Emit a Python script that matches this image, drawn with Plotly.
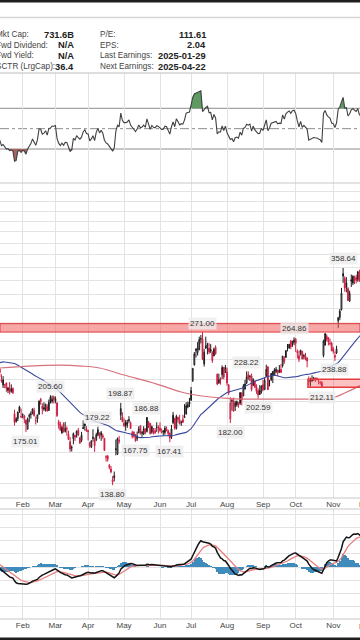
import numpy as np
import pandas as pd
import plotly.graph_objects as go

# ---------------- data ----------------
holidays = ['2024-01-15', '2024-02-19', '2024-03-29', '2024-05-27',
            '2024-06-19', '2024-07-04', '2024-09-02', '2024-11-28']
dates = [d.strftime('%Y-%m-%d') for d in pd.bdate_range('2024-01-10', '2024-11-29')
         if d.strftime('%Y-%m-%d') not in holidays]

# closes before the visible window (indicator warm-up): 2023-10-30 .. 2024-01-09
warmup_close = [197.36, 200.84,
                205.66, 218.51, 219.96, 219.27, 222.18, 222.11, 209.98, 214.65, 223.71, 237.41, 242.84,
                233.59, 234.30, 235.60, 241.20, 234.21, 235.45, 236.08, 246.72, 244.14, 240.08,
                238.83, 235.58, 238.72, 239.37, 242.64, 243.84, 239.74, 237.01, 239.29, 251.05,
                253.50, 252.08, 257.22, 247.14, 254.50, 252.54, 256.61, 261.44, 253.18, 248.48,
                248.42, 238.45, 237.93, 237.49, 240.45, 234.96]

opens = [
    235.1, 230.6, 220.1, 215.1, 214.9, 216.9, 210.0, 212.3, 211.3, 211.9, 189.7, 185.5, 185.6, 195.3, 187.0,
    188.5, 185.0, 184.3, 177.2, 188.2, 189.0, 190.2, 192.1, 184.0, 185.3, 189.2, 202.1, 196.1, 193.4, 194.0, 195.3, 192.3, 204.0, 200.4, 204.2,
    200.5, 198.7, 183.1, 181.3, 174.4, 181.5, 175.5, 177.8, 173.1, 167.8, 163.2, 170.0, 172.4, 173.0, 176.4, 166.7, 168.8, 178.6, 181.4, 177.5,
    176.2, 164.8, 164.0, 170.1, 169.1, 169.3, 172.9, 173.0, 172.6, 172.3, 170.2, 156.7, 157.6, 151.3, 149.0, 140.6, 143.3, 162.8, 159.0, 168.9, 188.4, 187.0,
    182.0, 182.9, 182.1, 183.8, 182.4, 171.6, 175.0, 173.1, 170.0, 174.5, 179.9, 174.1, 173.6, 177.6, 175.5, 182.9, 181.8, 174.8, 176.4, 174.2, 178.6, 178.5,
    178.1, 174.8, 176.0, 174.6, 176.1, 176.1, 173.9, 171.1, 188.4, 185.8, 177.9, 186.6, 184.7, 182.3, 185.0, 186.5, 189.3, 195.2, 199.6,
    201.0, 218.9, 234.6, 249.8, 247.7, 251.0, 262.8, 263.3, 235.8, 255.3, 255.3, 252.7, 251.1, 247.8, 244.2, 253.6, 225.4, 216.8, 221.2, 224.9, 232.3, 227.9,
    227.7, 214.9, 185.2, 200.8, 200.8, 195.7, 197.1, 199.0, 198.5, 207.4, 205.0, 211.2, 217.1, 224.9, 222.7, 223.8, 214.5, 218.8, 213.3, 209.7, 209.8, 208.6,
    215.3, 210.6, 223.5, 232.6, 216.2, 220.1, 224.6, 224.7, 228.0, 229.3, 229.5, 230.1, 234.0, 241.5, 242.6, 254.1, 252.5, 260.6, 257.4, 259.0,
    262.7, 247.6, 244.5, 246.7, 249.0, 243.6, 243.8, 241.8, 220.1, 220.1, 220.0, 221.4, 221.6, 221.0, 218.9, 217.3, 217.1, 244.7, 256.0, 266.0, 264.5, 258.0, 258.0,
    252.0, 244.6, 247.3, 284.7, 288.9, 299.1, 346.3, 342.7, 335.9, 327.7, 310.6, 340.7, 335.8, 345.0, 343.8, 341.1, 352.0, 341.0, 341.8, 336.1]
highs = [
    235.5, 230.9, 225.3, 223.5, 215.7, 217.4, 213.2, 217.8, 215.6, 212.7, 193.0, 186.8, 191.5, 196.4, 194.0,
    189.9, 188.7, 184.8, 186.5, 189.8, 191.6, 194.1, 194.7, 187.3, 188.9, 200.9, 203.2, 198.6, 199.4, 198.3, 197.6, 201.8, 205.6, 205.3, 205.3,
    204.5, 199.8, 184.7, 183.1, 180.0, 182.7, 182.9, 179.4, 176.1, 171.2, 165.2, 174.7, 172.8, 176.3, 178.2, 171.2, 175.2, 184.3, 181.9, 179.6,
    176.8, 167.7, 168.8, 177.2, 170.9, 174.5, 179.22, 174.9, 175.9, 173.8, 170.7, 158.2, 158.3, 152.2, 150.9, 144.4, 147.3, 169.4, 170.9, 172.1, 198.87, 190.95,
    185.9, 184.6, 184.7, 187.6, 183.3, 176.1, 175.6, 173.1, 175.4, 179.5, 180.0, 175.8, 179.6, 177.8, 186.88, 183.8, 181.9, 180.1, 178.2, 178.1, 182.7, 180.3,
    182.6, 177.8, 176.3, 179.7, 179.4, 177.0, 174.8, 180.6, 191.1, 186.0, 188.8, 187.2, 188.8, 184.0, 188.8, 197.8, 199.4, 199.8, 203.2,
    213.2, 231.3, 248.35, 252.4, 259.4, 265.6, 267.6, 271.00, 251.8, 265.6, 258.6, 258.5, 257.1, 249.4, 253.2, 255.8, 226.0, 226.0, 222.3, 234.3, 232.4, 234.7,
    231.9, 216.1, 203.9, 202.9, 203.5, 200.7, 200.9, 199.3, 208.5, 208.4, 215.9, 219.8, 228.22, 228.2, 224.7, 226.0, 221.5, 219.1, 215.7, 211.8, 214.9, 214.6,
    219.9, 222.2, 235.0, 233.6, 219.9, 226.4, 228.5, 231.45, 232.7, 230.0, 234.6, 235.7, 244.2, 244.0, 250.0, 257.2, 257.05, 261.75, 260.7, 264.86,
    264.0, 251.2, 249.8, 251.0, 249.8, 246.2, 247.4, 242.8, 223.3, 221.9, 224.3, 222.8, 222.1, 222.3, 220.5, 218.2, 218.7, 262.1, 269.5, 268.5, 265.0, 263.4, 259.8,
    254.0, 248.9, 255.3, 289.6, 299.75, 328.7, 358.64, 345.8, 344.6, 330.0, 324.7, 348.55, 347.4, 346.6, 348.0, 354.0, 356.0, 346.96, 342.55, 345.45]
lows = [
    231.3, 222.5, 217.2, 212.2, 212.0, 208.7, 207.6, 206.3, 207.8, 206.8, 180.1, 182.4, 183.7, 190.3, 185.9,
    186.0, 182.0, 175.01, 177.1, 182.7, 185.6, 189.1, 187.3, 180.9, 182.3, 188.8, 197.2, 189.1, 192.0, 191.4, 191.5, 192.0, 198.3, 198.4, 198.4,
    198.5, 187.0, 177.6, 176.0, 173.7, 174.7, 174.7, 172.4, 169.2, 160.5, 160.8, 165.9, 168.4, 170.8, 171.8, 166.3, 167.5, 177.6, 176.1, 175.3,
    168.8, 163.4, 163.2, 168.0, 160.5, 168.2, 171.9, 170.0, 168.5, 169.9, 161.4, 153.8, 153.8, 148.7, 146.2, 138.80, 141.1, 158.1, 158.4, 166.4, 184.5, 182.7,
    179.0, 176.0, 178.4, 182.2, 177.4, 170.2, 170.7, 167.75, 168.4, 174.1, 173.1, 171.4, 172.8, 173.3, 174.7, 178.1, 173.3, 173.7, 173.2, 173.9, 175.2, 173.9,
    175.0, 174.0, 172.1, 173.0, 175.6, 171.8, 167.41, 169.8, 181.2, 176.9, 177.0, 182.4, 180.8, 179.8, 182.4, 186.4, 189.0, 194.2, 195.3,
    200.9, 218.1, 234.3, 242.5, 244.6, 250.3, 257.9, 239.7, 233.1, 251.7, 245.8, 246.2, 247.2, 236.8, 243.8, 245.6, 214.7, 216.2, 215.3, 220.8, 220.4, 226.6,
    214.3, 205.7, 182.00, 192.1, 191.5, 192.0, 195.6, 194.7, 197.1, 196.7, 204.8, 210.8, 215.8, 219.6, 218.9, 209.1, 214.2, 212.1, 206.9, 202.59, 206.0, 207.0,
    209.6, 210.6, 222.3, 210.5, 213.7, 218.6, 216.8, 223.8, 226.3, 223.5, 226.6, 226.9, 232.1, 235.9, 241.9, 249.05, 252.3, 251.5, 254.1, 255.8,
    248.5, 241.5, 237.8, 244.6, 240.7, 240.6, 239.5, 232.3, 214.4, 213.7, 217.9, 218.9, 217.9, 219.2, 215.7, 215.3, 212.11, 242.7, 255.3, 260.2, 255.5, 255.8, 249.25,
    246.6, 238.88, 246.2, 275.6, 285.5, 297.7, 336.0, 323.3, 322.5, 310.4, 309.2, 330.0, 332.8, 334.3, 335.3, 337.7, 338.2, 335.7, 326.6, 334.0]
closes = [
    233.94, 227.22, 218.89, 219.91, 215.55, 211.88, 212.19, 208.80, 209.14, 207.83, 182.63, 183.25, 190.93, 191.59, 187.29,
    188.86, 187.91, 181.06, 185.10, 187.58, 189.56, 193.57, 188.13, 184.02, 188.71, 200.45, 199.95, 193.76, 194.77, 197.41, 191.97, 199.40, 199.73, 202.04, 201.88,
    202.64, 188.14, 180.74, 176.54, 178.65, 175.34, 177.77, 177.54, 169.48, 162.50, 163.57, 173.80, 171.32, 175.66, 172.82, 170.83, 172.63, 177.67, 179.83, 175.79,
    175.22, 166.63, 168.38, 171.11, 164.90, 172.98, 176.88, 171.76, 174.60, 171.05, 161.48, 157.11, 155.45, 149.93, 147.05, 142.05, 144.68, 162.13, 170.18, 168.29, 194.05, 183.28,
    179.99, 180.01, 181.19, 184.76, 177.81, 174.72, 171.97, 168.47, 171.89, 177.55, 173.99, 174.84, 177.46, 174.95, 186.60, 180.11, 173.74, 179.24, 176.75, 176.19, 178.79, 178.08,
    176.29, 174.77, 175.00, 177.94, 177.48, 173.79, 170.66, 177.29, 182.47, 178.01, 187.44, 184.86, 181.57, 183.01, 182.58, 187.35, 196.37, 197.42, 197.88,
    209.86, 231.26, 246.39, 251.52, 252.94, 262.33, 263.26, 241.03, 248.23, 252.64, 256.56, 248.50, 249.23, 239.20, 251.51, 246.38, 215.99, 220.25, 219.80, 232.10, 222.62, 232.07,
    216.86, 207.67, 198.88, 200.64, 191.76, 198.84, 200.00, 197.49, 207.83, 201.38, 214.14, 216.12, 222.72, 221.10, 223.27, 210.66, 220.32, 213.21, 209.21, 205.75, 206.28, 214.11,
    210.60, 219.41, 230.17, 210.73, 216.27, 226.17, 228.13, 229.81, 230.29, 226.78, 227.87, 227.20, 243.92, 238.25, 250.00, 254.27, 257.02, 254.22, 260.46, 261.63,
    258.02, 249.02, 240.66, 250.08, 240.83, 244.50, 241.05, 238.77, 217.80, 219.16, 219.57, 221.33, 220.89, 220.70, 218.85, 217.97, 213.65, 260.48, 269.19, 262.51, 259.52, 257.55, 249.85,
    248.98, 242.84, 251.44, 288.53, 296.91, 321.22, 350.00, 328.49, 330.24, 311.18, 320.72, 338.74, 346.00, 342.03, 339.64, 352.56, 338.59, 338.23, 332.89, 345.16]

# 200-day moving average
sma200_dates = ['2024-01-11', '2024-02-07', '2024-03-06', '2024-03-25', '2024-04-10', '2024-05-01',
                '2024-05-30', '2024-06-18', '2024-06-28', '2024-08-05', '2024-09-09', '2024-10-10',
                '2024-11-01', '2024-11-12', '2024-11-25', '2024-11-29']
sma200_values = [231.6, 233.6, 234.6, 233.6, 231.6, 224.6, 215.9, 209.4, 206.7, 202.6, 202.2, 202.2,
                 203.5, 207.6, 214.2, 216.9]

# labelled highs / lows
label_dates = ['2024-02-05', '2024-02-27', '2024-04-09', '2024-04-22', '2024-04-29', '2024-05-10',
               '2024-05-21', '2024-06-11', '2024-07-11', '2024-08-05', '2024-08-19', '2024-08-28',
               '2024-09-30', '2024-10-23', '2024-11-04', '2024-11-11']
label_values = [175.01, 205.60, 179.22, 138.80, 198.87, 167.75, 186.88, 167.41, 271.00, 182.00,
                228.22, 202.59, 264.86, 212.11, 238.88, 358.64]
label_kind = ['low', 'high', 'high', 'low', 'high', 'low', 'high', 'low', 'high', 'low',
              'high', 'low', 'high', 'low', 'low', 'high']

# resistance / support zones (price bounds)
zone_main = [271.0, 281.5]
zone_small = [213.0, 220.5]
zone_small_start = '2024-10-11'

month_ticks = ['2024-02-01', '2024-03-01', '2024-04-01', '2024-05-01', '2024-06-03',
               '2024-07-01', '2024-08-01', '2024-09-03', '2024-10-01', '2024-11-01']
month_text = ['Feb', 'Mar', 'Apr', 'May', 'Jun', 'Jul', 'Aug', 'Sep', 'Oct', 'Nov']
price_grid = list(range(140, 541, 20))

hdr_left_labels = ['Mkt Cap:', 'Fwd Dividend:', 'Fwd Yield:', 'SCTR (LrgCap):']
hdr_left_values = ['731.6B', 'N/A', 'N/A', '36.4']
hdr_right_labels = ['P/E:', 'EPS:', 'Last Earnings:', 'Next Earnings:']
hdr_right_values = ['111.61', '2.04', '2025-01-29', '2025-04-22']

assert len(dates) == len(opens) == len(highs) == len(lows) == len(closes)

# ---------------- indicators ----------------
n0 = len(warmup_close)
c_all = pd.Series(warmup_close + closes, dtype=float)
delta = c_all.diff()
gain = delta.clip(lower=0)
loss = -delta.clip(upper=0)
ag = gain.ewm(alpha=1 / 14, adjust=False).mean()
al = loss.ewm(alpha=1 / 14, adjust=False).mean()
rsi = (100 - 100 / (1 + ag / al)).to_numpy()[n0:]
ema12 = c_all.ewm(span=12, adjust=False).mean()
ema26 = c_all.ewm(span=26, adjust=False).mean()
macd_all = ema12 - ema26
sig_all = macd_all.ewm(span=9, adjust=False).mean()
macd = macd_all.to_numpy()[n0:]
sig = sig_all.to_numpy()[n0:]
hist = macd - sig
sma50 = c_all.rolling(50).mean().to_numpy()[n0:]

# ---------------- geometry ----------------
W, H = 360, 640
def py(p):  # pixel row -> paper y
    return 1 - p / H

feb_idx = dates.index('2024-02-01')
px_per_day = 1.6347
x_range = [feb_idx - 22.7 / px_per_day, feb_idx + (W - 22.7) / px_per_day]

fig = go.Figure()

# candles (black = up vs prior close, red = down)
c = np.array(closes)
prev = np.r_[warmup_close[-1], c[:-1]]
up = c >= prev
RED = '#cf1f43'
BLK = '#1a1a1a'
for mask, col in [(up, BLK), (~up, RED)]:
    idx = np.where(mask)[0]
    fig.add_trace(go.Candlestick(
        x=[dates[i] for i in idx], open=[opens[i] for i in idx], high=[highs[i] for i in idx],
        low=[lows[i] for i in idx], close=[closes[i] for i in idx],
        increasing=dict(line=dict(color=col, width=1), fillcolor='white'),
        decreasing=dict(line=dict(color=col, width=1), fillcolor=col),
        whiskerwidth=0, hoverinfo='skip', xaxis='x', yaxis='y'))

fig.add_trace(go.Scatter(x=dates, y=sma50, mode='lines', line=dict(color='#3c4a9c', width=1.1),
                         hoverinfo='skip', xaxis='x', yaxis='y'))
fig.add_trace(go.Scatter(x=sma200_dates, y=sma200_values, mode='lines',
                         line=dict(color='#d8717c', width=1.2, shape='spline'),
                         hoverinfo='skip', xaxis='x', yaxis='y'))

# RSI
fig.add_trace(go.Scatter(x=dates, y=[70] * len(dates), mode='lines', line=dict(width=0),
                         hoverinfo='skip', xaxis='x2', yaxis='y2'))
fig.add_trace(go.Scatter(x=dates, y=np.maximum(rsi, 70), mode='lines', line=dict(width=0),
                         fill='tonexty', fillcolor='#5f9a62', hoverinfo='skip', xaxis='x2', yaxis='y2'))
fig.add_trace(go.Scatter(x=dates, y=[30] * len(dates), mode='lines', line=dict(width=0),
                         hoverinfo='skip', xaxis='x2', yaxis='y2'))
fig.add_trace(go.Scatter(x=dates, y=np.minimum(rsi, 30), mode='lines', line=dict(width=0),
                         fill='tonexty', fillcolor='#a8645e', hoverinfo='skip', xaxis='x2', yaxis='y2'))
fig.add_trace(go.Scatter(x=dates, y=rsi, mode='lines', line=dict(color='#404040', width=1.1),
                         hoverinfo='skip', xaxis='x2', yaxis='y2'))

# MACD
fig.add_trace(go.Bar(x=dates, y=hist, marker=dict(color='#3f8bbb', line=dict(width=0)),
                     hoverinfo='skip', xaxis='x3', yaxis='y3'))
fig.add_trace(go.Scatter(x=dates, y=sig, mode='lines', line=dict(color='#e87e7e', width=1.3),
                         hoverinfo='skip', xaxis='x3', yaxis='y3'))
fig.add_trace(go.Scatter(x=dates, y=macd, mode='lines', line=dict(color='#141414', width=1.5),
                         hoverinfo='skip', xaxis='x3', yaxis='y3'))

i0, i1 = int(np.ceil(x_range[0])), int(np.floor(x_range[1]))
mmax = float(np.nanmax(macd[i0:i1 + 1]))
u = mmax / 33.5
macd_range = [-52 * u, 58 * u]

# ---------------- axes ----------------
grid = '#e3e3e3'
axfont = dict(family='Liberation Sans, Arial, sans-serif', size=8, color='#444')
xcommon = dict(type='category', categoryorder='array', categoryarray=dates,
               tickvals=month_ticks, ticktext=month_text, showgrid=True, gridcolor=grid,
               gridwidth=1, ticks='', zeroline=False, showline=False, tickfont=axfont,
               fixedrange=True)
fig.update_layout(
    width=W, height=H, margin=dict(l=0, r=0, t=0, b=0),
    paper_bgcolor='white', plot_bgcolor='white', showlegend=False, bargap=0,
    xaxis=dict(xcommon, domain=[0, 1], anchor='y', range=x_range, rangeslider=dict(visible=False),
               showticklabels=True),
    xaxis2=dict(xcommon, domain=[0, 1], anchor='y2', matches='x', showticklabels=False),
    xaxis3=dict(xcommon, domain=[0, 1], anchor='y3', matches='x', showticklabels=True),
    yaxis=dict(domain=[py(498), py(183)], type='log',
               range=[np.log10(131.2), np.log10(520.0)], tickvals=price_grid,
               showticklabels=False, showgrid=True, gridcolor=grid, zeroline=False, fixedrange=True),
    yaxis2=dict(domain=[py(183), py(73)], range=[-3.4, 104.7], showgrid=False,
                showticklabels=False, zeroline=False, fixedrange=True),
    yaxis3=dict(domain=[py(619), py(509)], range=macd_range, tick0=0, dtick=13.2 * u,
                showgrid=True, gridcolor=grid, showticklabels=False, zeroline=False, fixedrange=True),
)

# ---------------- shapes ----------------
shapes = []
def hline_px(p, color, width):
    shapes.append(dict(type='line', xref='paper', yref='paper', x0=0, x1=1, y0=py(p), y1=py(p),
                       line=dict(color=color, width=width)))

for lvl, dash in [(70, 'solid'), (30, 'solid'), (50, 'dashdot')]:
    shapes.append(dict(type='line', xref='paper', yref='y2', x0=0, x1=1, y0=lvl, y1=lvl,
                       line=dict(color='#8c8c8c', width=1, dash=dash), layer='below'))

shapes.append(dict(type='rect', xref='paper', yref='y', x0=0, x1=1, y0=zone_main[0], y1=zone_main[1],
                   fillcolor='rgba(242,95,95,0.55)', line=dict(color='#e0393c', width=1)))
shapes.append(dict(type='rect', xref='x', yref='y', x0=dates.index(zone_small_start) - 0.5,
                   x1=len(dates) + 5, y0=zone_small[0], y1=zone_small[1],
                   fillcolor='rgba(242,80,80,0.35)', line=dict(color='#e8393c', width=1.5)))

hline_px(1, '#1e1e1e', 3)
hline_px(17.5, '#d4d4d4', 1.5)
hline_px(73, '#bdbdbd', 1.2)
hline_px(183, '#c8c8c8', 1.2)
hline_px(498, '#c8c8c8', 1.2)
hline_px(509, '#c8c8c8', 1.2)
hline_px(619, '#c8c8c8', 1.2)
hline_px(639, '#1e1e1e', 3)
fig.update_layout(shapes=shapes)

# ---------------- annotations ----------------
ann = []
lab_font = dict(family='Liberation Sans, Arial, sans-serif', size=8.2, color='#444')
val_font = dict(family='Liberation Sans, Arial, sans-serif', size=9.3, color='#222')
rows_px = [34.5, 45.2, 55.8, 66.8]
for r, (l1, v1, l2, v2) in enumerate(zip(hdr_left_labels, hdr_left_values, hdr_right_labels, hdr_right_values)):
    yy = py(rows_px[r])
    ann.append(dict(text=l1, x=-5 / W, y=yy, xanchor='left', font=lab_font))
    ann.append(dict(text='<b>%s</b>' % v1, x=75 / W, y=yy, xanchor='right', font=val_font))
    ann.append(dict(text=l2, x=99 / W, y=yy, xanchor='left', font=lab_font))
    ann.append(dict(text='<b>%s</b>' % v2, x=207 / W, y=yy, xanchor='right', font=val_font))
for a in ann:
    a.update(xref='paper', yref='paper', yanchor='middle', showarrow=False, borderpad=0)

for d, v, k in zip(label_dates, label_values, label_kind):
    ann.append(dict(text='%.2f' % v, x=d, y=np.log10(v), xref='x', yref='y', showarrow=False,
                    yshift=9 if k == 'high' else -9, yanchor='middle',
                    font=dict(family='Liberation Sans, Arial, sans-serif', size=8, color='#333'),
                    bgcolor='rgba(236,236,236,0.8)', borderpad=1))

for p in (504, 626):
    ann.append(dict(text='Dec', x=366 / W, y=py(p), xref='paper', yref='paper', showarrow=False,
                    xanchor='center', yanchor='middle', font=axfont))
fig.update_layout(annotations=ann)

fig.write_html('out.html', config={'displayModeBar': False, 'staticPlot': True})
